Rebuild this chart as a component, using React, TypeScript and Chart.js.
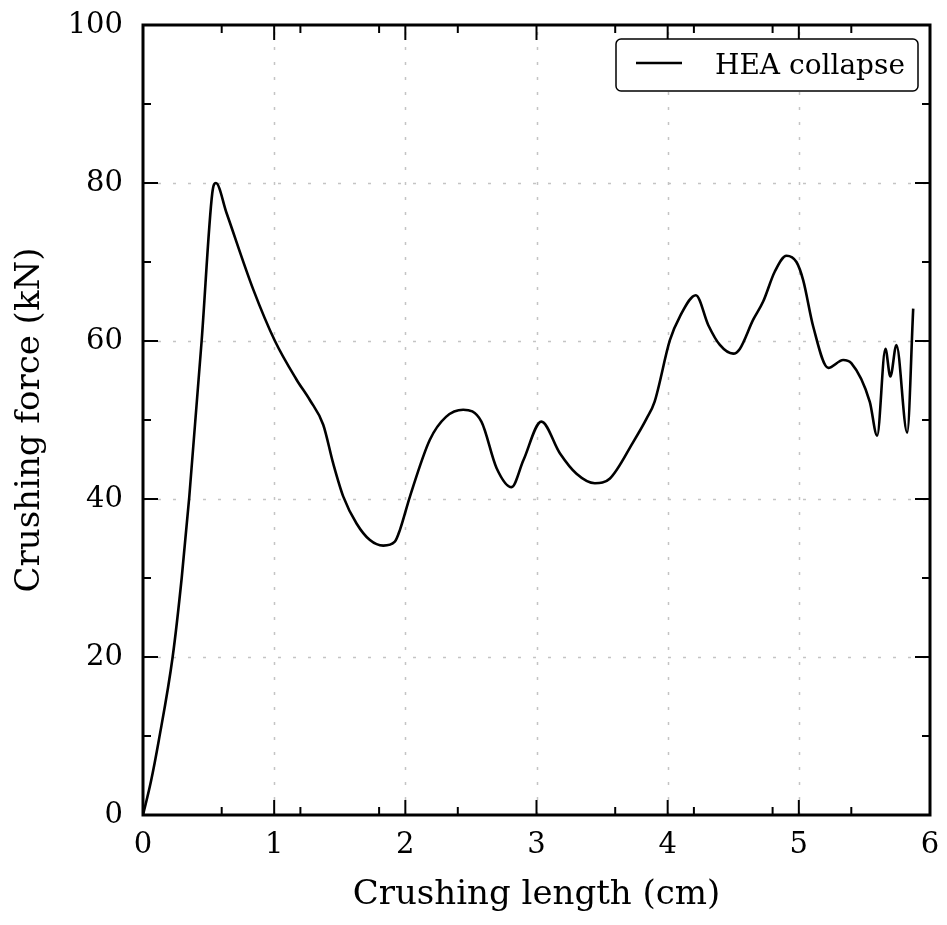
import React, { useEffect, useRef } from 'react';
import { Chart, registerables } from 'chart.js';

Chart.register(...registerables);

// ---- data ----
const lengthCm = [
  0, 0.06, 0.12, 0.226, 0.295, 0.353, 0.447, 0.528, 0.556, 0.637, 0.841, 1.006, 1.171, 1.273, 1.374,
  1.45, 1.527, 1.628, 1.73, 1.832, 1.92, 1.959, 2.035, 2.187, 2.31, 2.441, 2.58, 2.696, 2.81, 2.9,
  3.037, 3.178, 3.305, 3.445, 3.56, 3.737, 3.84, 3.9, 4.017, 4.093, 4.215, 4.31, 4.398, 4.5, 4.55,
  4.652, 4.728, 4.817, 4.906, 4.982, 5.033, 5.11, 5.224, 5.338, 5.4, 5.541, 5.597, 5.66, 5.698, 5.744,
  5.826, 5.872,
];
const forceKN = [
  0, 4.2, 9.4, 20, 30, 40.3, 60, 78.7, 80, 76.2, 66.5, 60, 55.1, 52.5, 49.4,
  44.5, 40.3, 36.9, 34.8, 34.1, 34.6, 36.1, 40.3, 47.5, 50.4, 51.3, 49.8, 43.9, 41.5, 44.9,
  49.8, 45.8, 43.2, 42.0, 42.6, 47.2, 50.2, 52.3, 60.1, 63.1, 65.8, 62.0, 59.5, 58.4, 59.0,
  62.7, 65.0, 68.8, 70.8, 70.0, 67.7, 61.8, 56.6, 57.6, 57.2, 52.3, 48.0, 59.0, 55.5, 59.5,
  48.4, 64.1,
];
const xMajorTicks = [0, 1, 2, 3, 4, 5, 6];
const xMinorTicks = [0.6, 1.2, 1.8, 2.4, 3.6, 4.2, 4.8, 5.4];
const yMajorTicks = [0, 20, 40, 60, 80, 100];
const yMinorTicks = [10, 30, 50, 70, 90];
const seriesLabel = 'HEA collapse';
const xTitle = 'Crushing length (cm)';
const yTitle = 'Crushing force (kN)';

const FONT = '"DejaVu Serif", serif';

const framePlugin = {
  id: 'frameTicksLegend',
  beforeDatasetsDraw(chart: any) {
    const { ctx, chartArea: a, scales } = chart;
    const x = scales.x;
    const y = scales.y;
    ctx.save();
    ctx.strokeStyle = '#c4c4c4';
    ctx.lineWidth = 1.5;
    ctx.setLineDash([3, 12]);
    for (const v of xMajorTicks.slice(1, -1)) {
      const px = Math.round(x.getPixelForValue(v)) + 0.5;
      ctx.beginPath();
      ctx.moveTo(px, a.bottom);
      ctx.lineTo(px, a.top);
      ctx.stroke();
    }
    for (const v of yMajorTicks.slice(1, -1)) {
      const py = Math.round(y.getPixelForValue(v)) + 0.5;
      ctx.beginPath();
      ctx.moveTo(a.left, py);
      ctx.lineTo(a.right, py);
      ctx.stroke();
    }
    ctx.restore();
  },
  afterDatasetsDraw(chart: any) {
    const { ctx, chartArea: a, scales } = chart;
    const x = scales.x;
    const y = scales.y;
    ctx.save();
    ctx.strokeStyle = '#000';
    ctx.lineWidth = 2;
    const tick = (x1: number, y1: number, x2: number, y2: number) => {
      ctx.beginPath();
      ctx.moveTo(x1, y1);
      ctx.lineTo(x2, y2);
      ctx.stroke();
    };
    const drawX = (vals: number[], len: number) => {
      for (const v of vals) {
        const px = x.getPixelForValue(v);
        tick(px, a.bottom, px, a.bottom - len);
        tick(px, a.top, px, a.top + len);
      }
    };
    const drawY = (vals: number[], len: number) => {
      for (const v of vals) {
        const py = y.getPixelForValue(v);
        tick(a.left, py, a.left + len, py);
        tick(a.right, py, a.right - len, py);
      }
    };
    drawX(xMajorTicks, 15);
    drawX(xMinorTicks, 8);
    drawY(yMajorTicks, 15);
    drawY(yMinorTicks, 8);
    ctx.lineWidth = 3;
    ctx.strokeRect(a.left, a.top, a.right - a.left, a.bottom - a.top);
    ctx.restore();
  },
  afterDraw(chart: any) {
    const { ctx, chartArea: a } = chart;
    const w = 302;
    const h = 52;
    const bx = a.right - 12 - w;
    const by = a.top + 14;
    ctx.save();
    ctx.fillStyle = '#fff';
    ctx.strokeStyle = '#000';
    ctx.lineWidth = 1.5;
    ctx.beginPath();
    (ctx as any).roundRect(bx, by, w, h, 5);
    ctx.fill();
    ctx.stroke();
    ctx.lineWidth = 2.5;
    ctx.beginPath();
    ctx.moveTo(bx + 20, by + 24);
    ctx.lineTo(bx + 66, by + 24);
    ctx.stroke();
    ctx.fillStyle = '#000';
    ctx.font = `28px ${FONT}`;
    ctx.textBaseline = 'alphabetic';
    ctx.textAlign = 'left';
    ctx.fillText(seriesLabel, bx + 99, by + 35);
    ctx.restore();
  },
};

export default function App() {
  const canvasRef = useRef<HTMLCanvasElement | null>(null);

  useEffect(() => {
    document.body.style.margin = '0';
    const canvas = canvasRef.current;
    if (!canvas) return;
    const points = lengthCm.map((v, i) => ({ x: v, y: forceKN[i] }));
    const chart = new Chart(canvas, {
      type: 'line',
      data: {
        datasets: [
          {
            label: seriesLabel,
            data: points,
            borderColor: '#000',
            borderWidth: 2.6,
            pointRadius: 0,
            fill: false,
            cubicInterpolationMode: 'monotone',
          } as any,
        ],
      },
      options: {
        animation: false,
        responsive: false,
        devicePixelRatio: 1,
        layout: { padding: { top: 25, right: 17, left: 0, bottom: 0 } },
        plugins: { legend: { display: false }, tooltip: { enabled: false } },
        scales: {
          x: {
            type: 'linear',
            min: 0,
            max: 6,
            afterBuildTicks: (s: any) => {
              s.ticks = xMajorTicks.map((v) => ({ value: v }));
            },
            afterFit: (s: any) => {
              s.height = 110;
              s.paddingLeft = 0;
              s.paddingRight = 0;
            },
            grid: { display: false, drawTicks: false },
            border: { display: false },
            ticks: {
              padding: 13,
              color: '#000',
              font: { family: FONT, size: 29 },
              maxRotation: 0,
            },
            title: {
              display: true,
              text: xTitle,
              color: '#000',
              font: { family: FONT, size: 34, lineHeight: 1.2 },
              padding: { top: 0, bottom: 9 },
            },
          },
          y: {
            type: 'linear',
            min: 0,
            max: 100,
            afterBuildTicks: (s: any) => {
              s.ticks = yMajorTicks.map((v) => ({ value: v }));
            },
            afterFit: (s: any) => {
              s.width = 143;
              s.paddingTop = 0;
              s.paddingBottom = 0;
            },
            grid: { display: false, drawTicks: false },
            border: { display: false },
            ticks: {
              padding: 20,
              color: '#000',
              font: { family: FONT, size: 29 },
            },
            title: {
              display: true,
              text: yTitle,
              color: '#000',
              font: { family: FONT, size: 34, lineHeight: 1.2 },
              padding: { top: 10, bottom: 0 },
            },
          },
        },
      },
      plugins: [framePlugin],
    });
    return () => chart.destroy();
  }, []);

  return (
    <div style={{ width: 947, height: 925, background: '#fff' }}>
      <canvas ref={canvasRef} width={947} height={925} style={{ display: 'block' }} />
    </div>
  );
}
